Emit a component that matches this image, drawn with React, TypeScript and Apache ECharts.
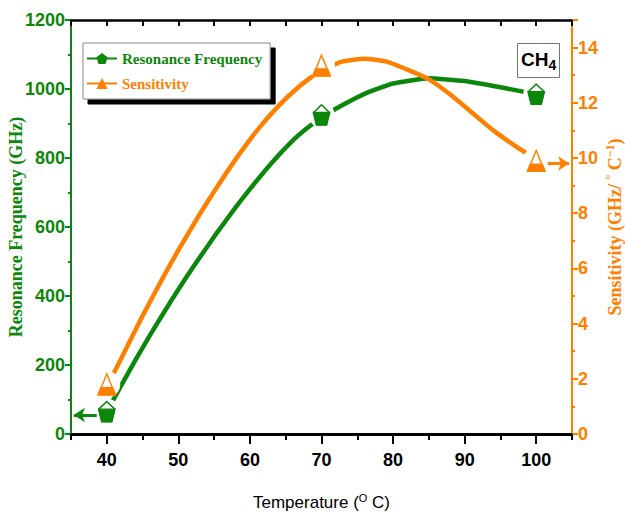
import React, { useEffect, useRef } from "react";
import * as echarts from "echarts";

// Measured points
const temperatures = [40, 70, 100];
const resonanceFrequency = [65, 925, 985];
const sensitivity = [1.8, 13.35, 9.9];

// Fitted curves
const freqCurveT = [40, 42, 44, 46, 48, 50, 52, 55, 58, 60, 63, 66, 68, 70, 72, 76, 80, 85, 90, 95, 100];
const freqCurveV = [65, 140, 214, 285, 353, 419, 482, 572, 657, 710, 785, 851, 887, 918, 943, 986, 1016, 1031, 1023, 1005, 985];
const sensCurveT = [40, 42, 45, 48, 50, 53, 55, 58, 61, 64, 67, 70, 73, 76, 79, 82, 85, 88, 91, 94, 97, 100];
const sensCurveV = [1.7, 2.73, 4.28, 5.74, 6.66, 7.97, 8.79, 9.95, 11.0, 11.89, 12.62, 13.19, 13.5, 13.6, 13.5, 13.2, 12.85, 12.3, 11.65, 11.0, 10.45, 9.95];

// Axis ticks
const xMajorTicks = [40, 50, 60, 70, 80, 90, 100];
const xMinorTicks = [35, 45, 55, 65, 75, 85, 95, 105];

// Arrows pointing to each series' axis
const freqArrow = [[38.6, 55], [35.4, 55]];
const sensArrow = [[101.6, 9.8], [104.6, 9.8]];

const GREEN = "#0b870b";
const ORANGE = "#ff8000";
const NARROW = "'Liberation Sans Narrow', 'Liberation Sans', Arial, sans-serif";
const SERIF = "'Liberation Serif', 'Times New Roman', serif";

const PENTAGON = "path://M5,0 L10,3.8 L8.1,10 L1.9,10 L0,3.8 Z";
const PENT_FILL = "path://M0,0 L10,0 L8.1,6.2 L1.9,6.2 Z";
const TRIANGLE = "path://M5,0 L10,10 L0,10 Z";
const TRI_FILL = "path://M1.75,0 L8.25,0 L10,3.5 L0,3.5 Z";

export default function App() {
  const ref = useRef<HTMLDivElement>(null);

  useEffect(() => {
    if (!ref.current) return;
    const chart = echarts.init(ref.current, null, { renderer: "svg" });

    const freqPts = temperatures.map((t, i) => [t, resonanceFrequency[i]]);
    const sensPts = temperatures.map((t, i) => [t, sensitivity[i]]);
    const freqCurve = freqCurveT.map((t, i) => [t, freqCurveV[i]]);
    const sensCurve = sensCurveT.map((t, i) => [t, sensCurveV[i]]);

    const pW = 16, pH = 20;
    const tW = 17, tH = 21;

    const option: any = {
      animation: false,
      backgroundColor: "#fff",
      grid: { left: 71, right: 53, top: 20, bottom: 80, containLabel: false, outerBoundsMode: "none" },
      title: {
        text: "{a|CH}{b|4}",
        left: 517,
        top: 40,
        borderColor: "#777",
        borderWidth: 1,
        padding: [7, 4, 6, 4],
        textStyle: {
          rich: {
            a: { fontFamily: NARROW, fontSize: 19, fontWeight: "bold", color: "#000" },
            b: { fontFamily: NARROW, fontSize: 14, fontWeight: "bold", color: "#000", padding: [11, 0, 0, 0] },
          },
        },
      },
      legend: {
        left: 83,
        top: 43,
        orient: "vertical",
        backgroundColor: "#fff",
        borderColor: "#888",
        borderWidth: 1,
        shadowColor: "#000",
        shadowOffsetX: 5,
        shadowOffsetY: 5,
        shadowBlur: 0,
        padding: [8, 8, 8, 3],
        itemGap: 10,
        itemWidth: 30,
        itemHeight: 14,
        textStyle: { fontFamily: SERIF, fontWeight: "bold", fontSize: 15 },
        data: [
          { name: "Resonance Frequency", textStyle: { color: GREEN } },
          { name: "Sensitivity", textStyle: { color: ORANGE } },
        ],
      },
      xAxis: [
        {
          type: "value",
          position: "bottom",
          min: 35,
          max: 105,
          name: "Temperature ({s|O} C)",
          nameLocation: "middle",
          nameGap: 58,
          nameTextStyle: {
            fontFamily: NARROW,
            fontSize: 17,
            color: "#000",
            rich: { s: { fontFamily: NARROW, fontSize: 11, color: "#000", padding: [0, 0, 10, 0] } },
          },
          axisLine: { show: true, onZero: false, lineStyle: { color: "#000", width: 3 } },
          axisTick: { show: true, customValues: xMajorTicks, length: 10, lineStyle: { color: "#000", width: 2 } },
          axisLabel: {
            customValues: xMajorTicks,
            margin: 17,
            fontFamily: NARROW,
            fontSize: 18,
            fontWeight: "bold",
            color: "#000",
            formatter: (v: number) => String(v),
          },
          splitLine: { show: false },
        },
        {
          type: "value",
          position: "bottom",
          min: 35,
          max: 105,
          axisLine: { show: false, onZero: false },
          axisTick: { show: true, customValues: xMinorTicks, length: 6, lineStyle: { color: "#000", width: 2 } },
          axisLabel: { show: false },
          splitLine: { show: false },
        },
        {
          type: "value",
          position: "top",
          min: 35,
          max: 105,
          interval: 5,
          axisLine: { show: true, onZero: false, lineStyle: { color: "#000", width: 2.5 } },
          axisTick: { show: true, inside: true, length: 6, lineStyle: { color: "#000", width: 2 } },
          axisLabel: { show: false },
          splitLine: { show: false },
        },
      ],
      yAxis: [
        {
          type: "value",
          position: "left",
          min: 0,
          max: 1200,
          interval: 200,
          name: "Resonance Frequency (GHz)",
          nameLocation: "middle",
          nameRotate: 90,
          nameGap: 46,
          nameMoveOverlap: false,
          nameTextStyle: { fontFamily: SERIF, fontSize: 18, fontWeight: "bold", color: GREEN },
          axisLine: { show: true, onZero: false, lineStyle: { color: GREEN, width: 2 } },
          axisTick: { show: true, length: 6, lineStyle: { color: GREEN, width: 2 } },
          minorTick: { show: true, splitNumber: 2, length: 3, lineStyle: { color: GREEN, width: 2 } },
          axisLabel: {
            margin: 6,
            fontFamily: NARROW,
            fontSize: 18,
            fontWeight: "bold",
            color: GREEN,
            formatter: (v: number) => String(v),
          },
          splitLine: { show: false },
        },
        {
          type: "value",
          position: "right",
          min: 0,
          max: 15,
          interval: 2,
          name: "Sensitivity (GHz/ {s|°} C{s|−1})",
          nameLocation: "middle",
          nameRotate: 90,
          nameGap: 32,
          nameMoveOverlap: false,
          nameTextStyle: {
            fontFamily: SERIF,
            fontSize: 18,
            fontWeight: "bold",
            color: ORANGE,
            rich: { s: { fontFamily: SERIF, fontSize: 12, fontWeight: "bold", color: ORANGE, padding: [0, 0, 10, 0] } },
          },
          axisLine: { show: true, onZero: false, lineStyle: { color: ORANGE, width: 2 } },
          axisTick: { show: true, length: 6, lineStyle: { color: ORANGE, width: 2 } },
          minorTick: { show: true, splitNumber: 2, length: 3, lineStyle: { color: ORANGE, width: 2 } },
          axisLabel: {
            margin: 6,
            showMaxLabel: false,
            fontFamily: NARROW,
            fontSize: 18,
            fontWeight: "bold",
            color: ORANGE,
            formatter: (v: number) => String(v),
          },
          splitLine: { show: false },
        },
      ],
      series: [
        {
          name: "Resonance Frequency",
          type: "line",
          xAxisIndex: 0,
          yAxisIndex: 0,
          data: freqCurve,
          smooth: 0.15,
          showSymbol: false,
          symbol: PENTAGON,
          symbolSize: 12,
          z: 2,
          lineStyle: { color: GREEN, width: 4.5 },
          itemStyle: { color: GREEN },
          markLine: {
            silent: true,
            symbol: ["none", "arrow"],
            symbolSize: 11,
            label: { show: false },
            lineStyle: { color: GREEN, width: 3, type: "solid" },
            data: [[{ coord: freqArrow[0] }, { coord: freqArrow[1] }]],
          },
        },
        {
          name: "Sensitivity",
          type: "line",
          xAxisIndex: 0,
          yAxisIndex: 1,
          data: sensCurve,
          smooth: 0.15,
          showSymbol: false,
          symbol: TRIANGLE,
          symbolSize: 12,
          z: 2,
          lineStyle: { color: ORANGE, width: 4.5 },
          itemStyle: { color: ORANGE },
          markLine: {
            silent: true,
            symbol: ["none", "arrow"],
            symbolSize: 11,
            label: { show: false },
            lineStyle: { color: ORANGE, width: 3, type: "solid" },
            data: [[{ coord: sensArrow[0] }, { coord: sensArrow[1] }]],
          },
        },
        {
          name: "freqHalo",
          type: "scatter",
          yAxisIndex: 0,
          data: freqPts,
          symbol: "circle",
          symbolSize: 26,
          z: 3,
          itemStyle: { color: "#fff", opacity: 1 },
          silent: true,
        },
        {
          name: "sensHalo",
          type: "scatter",
          yAxisIndex: 1,
          data: sensPts,
          symbol: "circle",
          symbolSize: 27,
          z: 3,
          itemStyle: { color: "#fff", opacity: 1 },
          silent: true,
        },
        {
          name: "freqMark",
          type: "scatter",
          yAxisIndex: 0,
          data: freqPts,
          symbol: PENTAGON,
          symbolSize: [pW, pH],
          z: 4,
          itemStyle: { color: "#fff", borderColor: GREEN, borderWidth: 1.5, opacity: 1 },
          silent: true,
        },
        {
          name: "freqMarkFill",
          type: "scatter",
          yAxisIndex: 0,
          data: freqPts,
          symbol: PENT_FILL,
          symbolSize: [pW, pH * 0.62],
          symbolOffset: [0, (pH - pH * 0.62) / 2],
          z: 5,
          itemStyle: { color: GREEN, borderColor: GREEN, borderWidth: 1.5, opacity: 1 },
          silent: true,
        },
        {
          name: "sensMark",
          type: "scatter",
          yAxisIndex: 1,
          data: sensPts,
          symbol: TRIANGLE,
          symbolSize: [tW, tH],
          z: 4,
          itemStyle: { color: "#fff", borderColor: ORANGE, borderWidth: 1.5, opacity: 1 },
          silent: true,
        },
        {
          name: "sensMarkFill",
          type: "scatter",
          yAxisIndex: 1,
          data: sensPts,
          symbol: TRI_FILL,
          symbolSize: [tW, tH * 0.35],
          symbolOffset: [0, (tH - tH * 0.35) / 2],
          z: 5,
          itemStyle: { color: ORANGE, borderColor: ORANGE, borderWidth: 1.5, opacity: 1 },
          silent: true,
        },
      ],
    };

    chart.setOption(option);
    return () => chart.dispose();
  }, []);

  return (
    <div
      ref={ref}
      style={{ position: "fixed", left: 0, top: 0, width: 625, height: 514, background: "#fff" }}
    />
  );
}
